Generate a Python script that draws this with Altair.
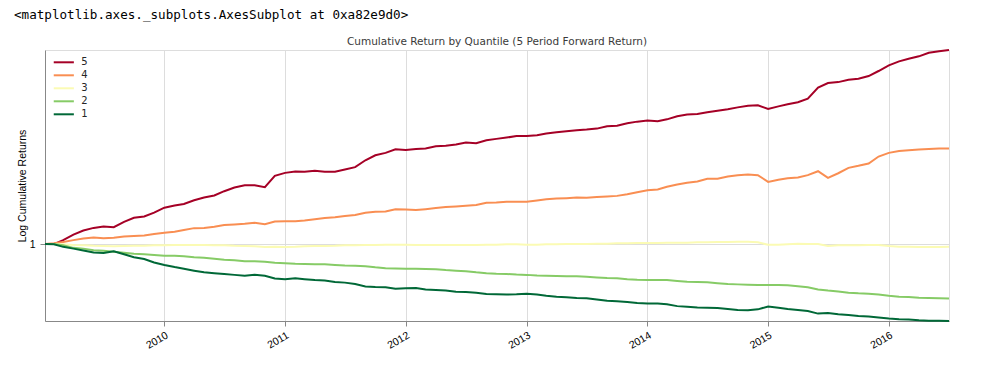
import altair as alt
import pandas as pd

header_text = ["<matplotlib.axes._subplots.AxesSubplot at 0xa82e9d0>"]
title_text = ["Cumulative Return by Quantile (5 Period Forward Return)"]
y_title = "Log Cumulative Returns"
quantiles = ["5", "4", "3", "2", "1"]
colors = ["#a50026", "#f98e52", "#fbfbb4", "#86cb66", "#006837"]
year_ticks = list(range(2010, 2017))

dates = ["2009-01-05"] + [d.strftime("%Y-%m-%d") for d in pd.date_range("2009-02-01", "2016-07-01", freq="MS")]

q5 = [1.000, 1.000, 1.016, 1.039, 1.056, 1.067, 1.073, 1.070, 1.093, 1.111, 1.117, 1.134,
      1.157, 1.167, 1.174, 1.192, 1.205, 1.215, 1.236, 1.254, 1.266, 1.266, 1.256, 1.314,
      1.330, 1.337, 1.336, 1.342, 1.336, 1.336, 1.348, 1.361, 1.399, 1.427, 1.441, 1.462,
      1.458, 1.464, 1.466, 1.480, 1.482, 1.490, 1.502, 1.498, 1.516, 1.524, 1.532, 1.541,
      1.541, 1.546, 1.557, 1.565, 1.571, 1.578, 1.582, 1.588, 1.603, 1.607, 1.622, 1.633,
      1.640, 1.635, 1.648, 1.669, 1.680, 1.684, 1.695, 1.706, 1.716, 1.729, 1.741, 1.743,
      1.718, 1.736, 1.751, 1.765, 1.791, 1.871, 1.906, 1.913, 1.931, 1.939, 1.960, 2.000,
      2.046, 2.079, 2.101, 2.121, 2.152, 2.164, 2.176]

q4 = [1.000, 1.003, 1.008, 1.016, 1.023, 1.027, 1.024, 1.026, 1.031, 1.033, 1.035, 1.041,
      1.046, 1.051, 1.058, 1.066, 1.067, 1.072, 1.079, 1.082, 1.085, 1.089, 1.083, 1.095,
      1.096, 1.096, 1.099, 1.105, 1.110, 1.114, 1.119, 1.124, 1.134, 1.138, 1.139, 1.150,
      1.149, 1.146, 1.150, 1.155, 1.160, 1.163, 1.166, 1.169, 1.180, 1.181, 1.185, 1.185,
      1.185, 1.191, 1.197, 1.200, 1.202, 1.205, 1.204, 1.207, 1.210, 1.213, 1.221, 1.231,
      1.241, 1.244, 1.258, 1.269, 1.278, 1.285, 1.299, 1.299, 1.311, 1.318, 1.321, 1.318,
      1.283, 1.294, 1.302, 1.306, 1.318, 1.339, 1.304, 1.328, 1.357, 1.368, 1.381, 1.420,
      1.441, 1.452, 1.456, 1.460, 1.464, 1.466, 1.466]

q3 = [1.000, 1.000, 0.999, 0.996, 0.995, 0.993, 0.992, 0.991, 0.992, 0.993, 0.993, 0.995,
      0.995, 0.996, 0.996, 0.996, 0.996, 0.995, 0.995, 0.993, 0.992, 0.991, 0.988, 0.989,
      0.988, 0.989, 0.991, 0.992, 0.992, 0.993, 0.995, 0.995, 0.996, 0.996, 0.997, 0.997,
      0.997, 0.996, 0.996, 0.996, 0.996, 0.996, 0.996, 0.996, 0.997, 0.997, 0.999, 0.999,
      0.997, 0.997, 0.999, 0.999, 1.000, 1.000, 1.000, 1.001, 1.001, 1.003, 1.003, 1.004,
      1.004, 1.004, 1.005, 1.005, 1.005, 1.007, 1.007, 1.008, 1.008, 1.009, 1.009, 1.007,
      0.997, 0.997, 0.999, 1.001, 1.000, 1.000, 0.992, 0.995, 0.995, 0.995, 0.996, 0.996,
      0.992, 0.989, 0.989, 0.988, 0.988, 0.988, 0.989]

q2 = [1.000, 1.000, 0.995, 0.985, 0.982, 0.976, 0.974, 0.970, 0.966, 0.962, 0.960, 0.957,
      0.954, 0.954, 0.952, 0.949, 0.947, 0.943, 0.939, 0.937, 0.934, 0.934, 0.932, 0.928,
      0.926, 0.924, 0.923, 0.922, 0.922, 0.920, 0.918, 0.917, 0.915, 0.911, 0.908, 0.907,
      0.906, 0.906, 0.905, 0.904, 0.901, 0.899, 0.897, 0.893, 0.890, 0.888, 0.887, 0.885,
      0.884, 0.882, 0.881, 0.880, 0.879, 0.879, 0.877, 0.875, 0.873, 0.872, 0.869, 0.867,
      0.866, 0.866, 0.866, 0.863, 0.860, 0.859, 0.858, 0.855, 0.852, 0.851, 0.850, 0.849,
      0.849, 0.849, 0.848, 0.845, 0.841, 0.834, 0.830, 0.827, 0.823, 0.821, 0.820, 0.817,
      0.813, 0.810, 0.809, 0.807, 0.806, 0.805, 0.804]

q1 = [1.000, 0.999, 0.989, 0.982, 0.975, 0.967, 0.965, 0.972, 0.960, 0.949, 0.942, 0.929,
      0.920, 0.912, 0.906, 0.899, 0.893, 0.890, 0.887, 0.884, 0.881, 0.884, 0.881, 0.871,
      0.869, 0.872, 0.869, 0.866, 0.864, 0.859, 0.857, 0.852, 0.844, 0.842, 0.841, 0.836,
      0.838, 0.839, 0.834, 0.832, 0.830, 0.826, 0.825, 0.823, 0.819, 0.818, 0.817, 0.818,
      0.820, 0.817, 0.813, 0.810, 0.808, 0.806, 0.805, 0.801, 0.797, 0.795, 0.793, 0.790,
      0.788, 0.788, 0.786, 0.780, 0.778, 0.776, 0.775, 0.774, 0.771, 0.768, 0.767, 0.770,
      0.779, 0.775, 0.771, 0.768, 0.765, 0.757, 0.759, 0.755, 0.753, 0.750, 0.748, 0.745,
      0.742, 0.740, 0.739, 0.737, 0.736, 0.736, 0.735]

series = {"5": q5, "4": q4, "3": q3, "2": q2, "1": q1}
rows = []
for q in quantiles:
    for d, v in zip(dates, series[q]):
        rows.append({"date": d, "value": v, "quantile": q})
df = pd.DataFrame(rows)

lines = alt.Chart(df).mark_line(strokeWidth=2).encode(
    x=alt.X(
        "date:T",
        scale=alt.Scale(type="utc", nice=False,
                        domain=[alt.DateTime(year=2009, month=1, date=5, utc=True),
                                alt.DateTime(year=2016, month=7, date=1, utc=True)]),
        axis=alt.Axis(
            values=[alt.DateTime(year=y, month=1, date=1, utc=True) for y in year_ticks],
            format="%Y", labelAngle=330, labelAlign="right", labelBaseline="top",
            labelPadding=4, grid=True, title=None, labelFontSize=10.5,
        ),
    ),
    y=alt.Y(
        "value:Q",
        scale=alt.Scale(type="log", domain=[0.7349, 2.1756], nice=False, zero=False),
        axis=alt.Axis(
            values=[1], format="~g", title=y_title, grid=True, labelPadding=5,
            labelFontSize=10.5, titleX=-23, titleY=135.5, titleAngle=270,
            titleAlign="center", titleBaseline="middle", titleFontWeight="normal",
            titleFontSize=10.5,
        ),
    ),
    color=alt.Color(
        "quantile:N",
        scale=alt.Scale(domain=quantiles, range=colors),
        legend=alt.Legend(
            title=None, orient="none", legendX=10.8, legendY=4.3,
            symbolType="M-1.5,0L1.5,0", symbolSize=180, symbolStrokeWidth=2,
            labelFontSize=10, labelOffset=9.5, rowPadding=0, padding=0,
            labelFont="DejaVu Sans", labelColor="#262626",
        ),
    ),
)

header = alt.Chart(pd.DataFrame({"t": header_text})).mark_text(
    font="DejaVu Sans Mono", fontSize=12.6, align="left", baseline="middle", color="#000000"
).encode(text="t:N", x=alt.value(-31), y=alt.value(-35))

title = alt.Chart(pd.DataFrame({"t": title_text})).mark_text(
    font="DejaVu Sans", fontSize=10.5, align="center", baseline="alphabetic", color="#3a3a3a"
).encode(text="t:N", x=alt.value(452), y=alt.value(-5))

chart = alt.layer(lines, header, title).properties(
    width=904,
    height=271,
    autosize=alt.AutoSizeParams(type="none"),
    padding={"left": 37, "top": 42, "right": 26, "bottom": 39},
).configure_view(
    fill="#EAEAF2", stroke="transparent"
).configure_axis(
    domain=False, ticks=False, gridColor="#ffffff", gridWidth=1,
    labelFont="DejaVu Sans", titleFont="DejaVu Sans", labelColor="#262626",
    titleColor="#262626", titleFontWeight="normal",
).configure(background="#ffffff")

chart.save("out.html", embed_options={"renderer": "svg", "actions": False})
